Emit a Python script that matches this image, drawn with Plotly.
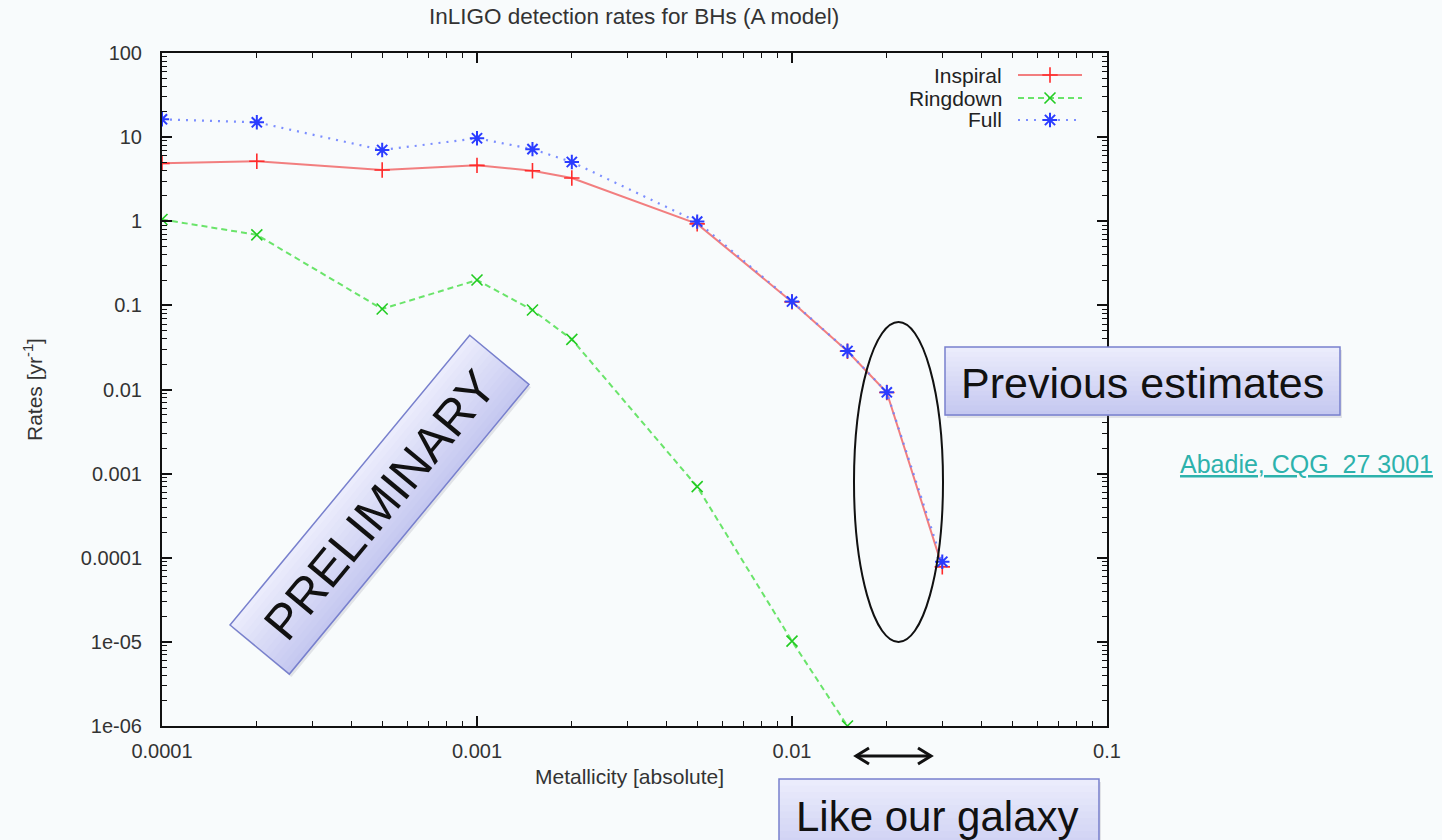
import math
import plotly.graph_objects as go

# Metallicity grid (absolute) and detection rates [yr^-1]
metallicity = [0.0001, 0.0002, 0.0005, 0.001, 0.0015, 0.002, 0.005, 0.01, 0.015, 0.02, 0.03]
inspiral = [4.88, 5.16, 4.07, 4.62, 3.99, 3.27, 0.93, 0.11, 0.0285, 0.0092, 7.8e-5]
full = [16.3, 15.0, 7.03, 9.7, 7.2, 5.06, 0.99, 0.111, 0.0287, 0.00927, 8.97e-5]
ringdown_metallicity = [0.0001, 0.0002, 0.0005, 0.001, 0.0015, 0.002, 0.005, 0.01, 0.015]
ringdown = [1.05, 0.69, 0.0906, 0.2, 0.088, 0.0395, 7.0e-4, 1.02e-5, 1.0e-6]

x_tickvals = [1e-4, 1e-3, 1e-2, 1e-1]
x_ticktext = ["0.0001", "0.001", "0.01", "0.1"]
y_tickvals = [100, 10, 1, 0.1, 0.01, 0.001, 1e-4, 1e-5, 1e-6]
y_ticktext = ["100", "10", "1", "0.1", "0.01", "0.001", "0.0001", "1e-05", "1e-06"]

# minor ticks at 2..9 within each decade
x_minor = [k * 10.0 ** d for d in range(-4, -1) for k in range(2, 10)]
y_minor = [k * 10.0 ** d for d in range(-6, 2) for k in range(2, 10)]

FONT = "Liberation Sans, Arial, Helvetica, sans-serif"
BG = "#F8FBFC"
W, H = 1442, 840
L, R, T, B = 162, 1107, 53, 726   # plot-area edges in pixels


def px(x):
    return (x - L) / (R - L)


def py(y):
    return (B - y) / (B - T)


def path(points):
    return "M " + " L ".join(f"{px(a):.5f},{py(b):.5f}" for a, b in points) + " Z"


def mix(c0, c1, t):
    return "rgb(" + ",".join(str(round(a + (b - a) * t)) for a, b in zip(c0, c1)) + ")"


shapes = []
annotations = []

LIGHT = (236, 237, 252)
DARK = (196, 199, 240)
EDGE = "rgb(120,128,205)"


def gradient_box(x0, y0, x1, y1, n=14):
    # soft drop shadow
    shapes.append(dict(type="path", xref="paper", yref="paper", layer="above",
                       path=path([(x0 + 2, y0 + 3), (x1 + 2, y0 + 3), (x1 + 2, y1 + 3), (x0 + 2, y1 + 3)]),
                       fillcolor="rgba(120,120,140,0.18)", line=dict(width=0)))
    for i in range(n):
        ya = y0 + (y1 - y0) * i / n
        yb = y0 + (y1 - y0) * (i + 1) / n + 0.6
        shapes.append(dict(type="path", xref="paper", yref="paper", layer="above",
                           path=path([(x0, ya), (x1, ya), (x1, yb), (x0, yb)]),
                           fillcolor=mix(LIGHT, DARK, (i + 0.5) / n), line=dict(width=0)))
    shapes.append(dict(type="path", xref="paper", yref="paper", layer="above",
                       path=path([(x0, y0), (x1, y0), (x1, y1), (x0, y1)]),
                       fillcolor="rgba(0,0,0,0)", line=dict(color=EDGE, width=1.5)))


def rotated_box(p0, length, width, angle_deg, n=14):
    a = math.radians(angle_deg)
    u = (math.cos(a), -math.sin(a))          # along the long side (screen y downward)
    v = (math.sin(a), math.cos(a))           # across the box
    p1 = (p0[0] + length * u[0], p0[1] + length * u[1])

    def off(p, d):
        return (p[0] + d * v[0], p[1] + d * v[1])

    sh = lambda p: (p[0] + 2, p[1] + 3)
    shapes.append(dict(type="path", xref="paper", yref="paper", layer="above",
                       path=path([sh(p0), sh(p1), sh(off(p1, width)), sh(off(p0, width))]),
                       fillcolor="rgba(120,120,140,0.18)", line=dict(width=0)))
    for i in range(n):
        da = width * i / n
        db = width * (i + 1) / n + 0.6
        shapes.append(dict(type="path", xref="paper", yref="paper", layer="above",
                           path=path([off(p0, da), off(p1, da), off(p1, db), off(p0, db)]),
                           fillcolor=mix(LIGHT, DARK, (i + 0.5) / n), line=dict(width=0)))
    shapes.append(dict(type="path", xref="paper", yref="paper", layer="above",
                       path=path([p0, p1, off(p1, width), off(p0, width)]),
                       fillcolor="rgba(0,0,0,0)", line=dict(color=EDGE, width=1.5)))
    c = (p0[0] + 0.5 * length * u[0] + 0.5 * width * v[0],
         p0[1] + 0.5 * length * u[1] + 0.5 * width * v[1])
    return c


fig = go.Figure()

INSPIRAL_LINE = dict(color="rgba(240,95,95,0.8)", width=2)
RINGDOWN_LINE = dict(color="rgba(90,225,90,0.9)", width=2, dash="6px,4px")
FULL_LINE = dict(color="rgba(110,130,255,0.9)", width=2.2, dash="2px,6px")
INSPIRAL_MK = dict(symbol="cross-thin", size=11, color="#ff2a2a", line=dict(width=1.6, color="#ff2a2a"))
RINGDOWN_MK = dict(symbol="x-thin", size=11, color="#22cc22", line=dict(width=1.6, color="#22cc22"))
FULL_MK = dict(symbol="asterisk-open", size=12, color="#2a3cff", line=dict(width=2, color="#2a3cff"))

# Data series
fig.add_trace(go.Scatter(x=metallicity, y=inspiral, mode="lines+markers", name="Inspiral",
                         line=INSPIRAL_LINE, marker=INSPIRAL_MK))
fig.add_trace(go.Scatter(x=ringdown_metallicity, y=ringdown, mode="lines+markers", name="Ringdown",
                         line=RINGDOWN_LINE, marker=RINGDOWN_MK))
fig.add_trace(go.Scatter(x=metallicity, y=full, mode="lines+markers", name="Full",
                         line=FULL_LINE, marker=FULL_MK))

# Key samples drawn on an overlay axis whose range matches the plot area
key_rows = [("Inspiral", 75, INSPIRAL_LINE, INSPIRAL_MK),
            ("Ringdown", 98, RINGDOWN_LINE, RINGDOWN_MK),
            ("Full", 120, FULL_LINE, FULL_MK)]
for name, ky, ln, mk in key_rows:
    fig.add_trace(go.Scatter(x=[px(1018), px(1082)], y=[py(ky), py(ky)], mode="lines", line=ln,
                             xaxis="x2", yaxis="y2", showlegend=False, hoverinfo="skip"))
    fig.add_trace(go.Scatter(x=[px(1050)], y=[py(ky)], mode="markers", marker=mk,
                             xaxis="x2", yaxis="y2", showlegend=False, hoverinfo="skip"))
    annotations.append(dict(text=name, x=px(1004), y=py(ky), xref="paper", yref="paper",
                            xanchor="right", yanchor="middle", showarrow=False,
                            font=dict(family=FONT, size=21, color="#222")))

# Titles
annotations.append(dict(text="InLIGO detection rates for BHs (A model)", x=px(634), y=py(17),
                        xref="paper", yref="paper", xanchor="center", yanchor="middle",
                        showarrow=False, font=dict(family=FONT, size=22.5, color="#333")))
annotations.append(dict(text="Metallicity [absolute]", x=px(629), y=py(776),
                        xref="paper", yref="paper", xanchor="center", yanchor="middle",
                        showarrow=False, font=dict(family=FONT, size=21, color="#333")))
annotations.append(dict(text="Rates [yr<sup>-1</sup>]", x=px(33), y=py(390), textangle=-90,
                        xref="paper", yref="paper", xanchor="center", yanchor="middle",
                        showarrow=False, font=dict(family=FONT, size=21, color="#333")))

# Ellipse around the earlier estimates
shapes.append(dict(type="circle", xref="paper", yref="paper", layer="above",
                   x0=px(854), x1=px(943), y0=py(642), y1=py(322),
                   line=dict(color="#111", width=2)))

# "PRELIMINARY" banner
center = rotated_box((230, 625), 376, 77, 50.4)
annotations.append(dict(text="PRELIMINARY", x=px(center[0]), y=py(center[1]), textangle=-50.4,
                        xref="paper", yref="paper", xanchor="center", yanchor="middle",
                        showarrow=False, font=dict(family=FONT, size=49, color="#111")))

# "Previous estimates" box
gradient_box(945, 347, 1340, 415)
annotations.append(dict(text="Previous estimates", x=px(1142), y=py(383),
                        xref="paper", yref="paper", xanchor="center", yanchor="middle",
                        showarrow=False, font=dict(family=FONT, size=43, color="#111")))

# Reference link
annotations.append(dict(text="<u>Abadie, CQG\u00a0 27 3001</u>", x=px(1306), y=py(464),
                        xref="paper", yref="paper", xanchor="center", yanchor="middle",
                        showarrow=False, font=dict(family=FONT, size=25, color="rgb(45,178,172)")))

# "Like our galaxy" box
gradient_box(779, 779, 1099, 870)
annotations.append(dict(text="Like our galaxy", x=px(937), y=py(816),
                        xref="paper", yref="paper", xanchor="center", yanchor="middle",
                        showarrow=False, font=dict(family=FONT, size=42, color="#111")))

# Double-headed arrow marking the galactic range
ay = 756
for pts in ([(856, ay), (931, ay)],
            [(869, ay - 8), (856, ay), (869, ay + 8)],
            [(918, ay - 8), (931, ay), (918, ay + 8)]):
    shapes.append(dict(type="path", xref="paper", yref="paper", layer="above",
                       path="M " + " L ".join(f"{px(a):.5f},{py(b):.5f}" for a, b in pts),
                       line=dict(color="#111", width=3)))

axis_common = dict(
    type="log", showline=True, linecolor="#111", linewidth=2, mirror="ticks",
    ticks="inside", ticklen=10, tickwidth=1.5, tickcolor="#111",
    showgrid=False, zeroline=False,
    tickfont=dict(family=FONT, size=20, color="#333"),
)

fig.update_layout(
    width=W, height=H,
    margin=dict(l=L, r=W - R, t=T, b=H - B, autoexpand=False),
    paper_bgcolor=BG, plot_bgcolor=BG,
    showlegend=False,
    xaxis=dict(range=[-4, -1], tickvals=x_tickvals, ticktext=x_ticktext, ticklabelstandoff=6,
               minor=dict(tickvals=x_minor, ticks="inside", ticklen=5, tickwidth=1.2,
                          tickcolor="#111", showgrid=False),
               **axis_common),
    yaxis=dict(range=[-6, 2], tickvals=y_tickvals, ticktext=y_ticktext, ticklabelstandoff=14,
               minor=dict(tickvals=y_minor, ticks="inside", ticklen=5, tickwidth=1.2,
                          tickcolor="#111", showgrid=False),
               **axis_common),
    xaxis2=dict(range=[0, 1], overlaying="x", visible=False, fixedrange=True),
    yaxis2=dict(range=[0, 1], overlaying="y", visible=False, fixedrange=True),
    shapes=shapes,
    annotations=annotations,
)

fig.write_html("out.html")
